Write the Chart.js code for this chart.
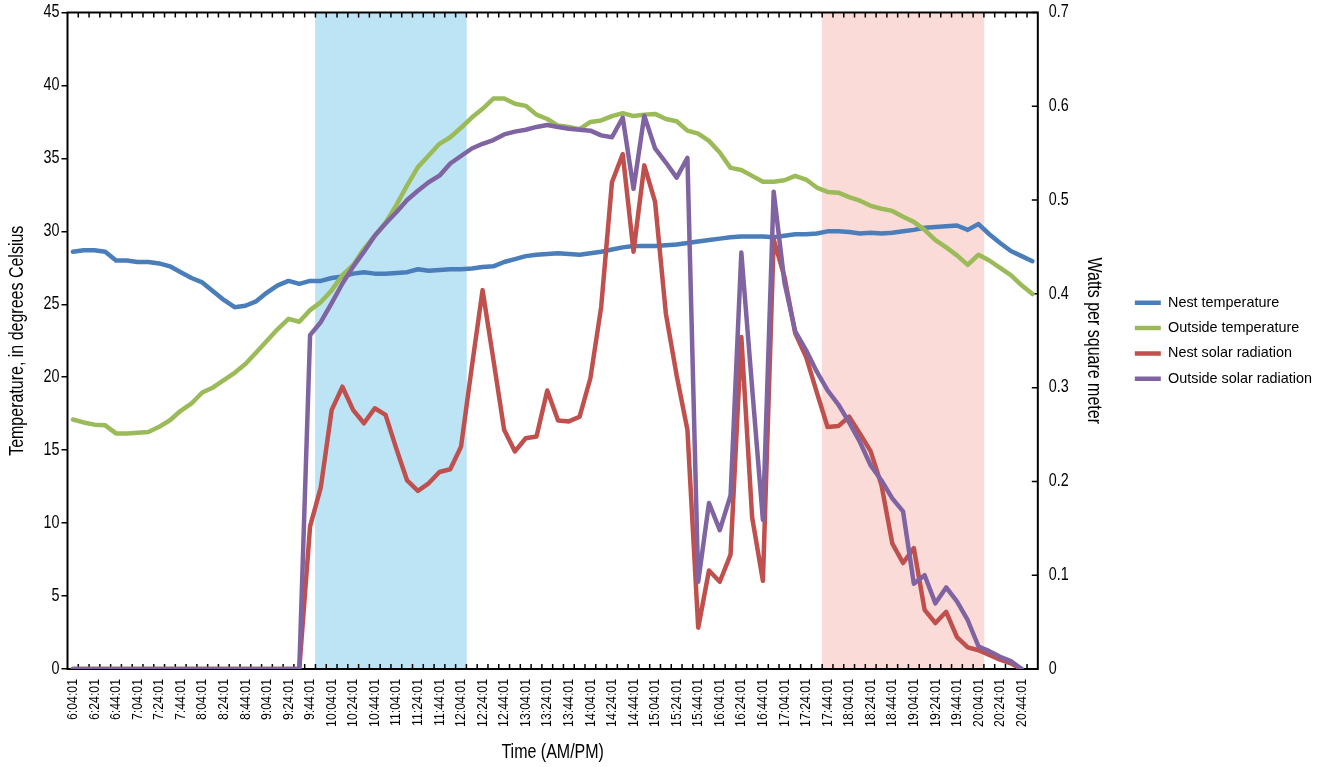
<!DOCTYPE html>
<html>
<head>
<meta charset="utf-8">
<script src="https://cdn.jsdelivr.net/npm/chart.js@4.4.1/dist/chart.umd.min.js"></script>
<style>
  html, body { margin: 0; padding: 0; background: #fff; }
  #wrap { width: 1322px; height: 767px; position: relative; }
</style>
</head>
<body>
<div id="wrap"><canvas id="c"></canvas></div>
<script>
// ---- Data (10-minute readings) ----
const times = [
  '6:04:01','6:14:01','6:24:01','6:34:01','6:44:01','6:54:01',
  '7:04:01','7:14:01','7:24:01','7:34:01','7:44:01','7:54:01',
  '8:04:01','8:14:01','8:24:01','8:34:01','8:44:01','8:54:01',
  '9:04:01','9:14:01','9:24:01','9:34:01','9:44:01','9:54:01',
  '10:04:01','10:14:01','10:24:01','10:34:01','10:44:01','10:54:01',
  '11:04:01','11:14:01','11:24:01','11:34:01','11:44:01','11:54:01',
  '12:04:01','12:14:01','12:24:01','12:34:01','12:44:01','12:54:01',
  '13:04:01','13:14:01','13:24:01','13:34:01','13:44:01','13:54:01',
  '14:04:01','14:14:01','14:24:01','14:34:01','14:44:01','14:54:01',
  '15:04:01','15:14:01','15:24:01','15:34:01','15:44:01','15:54:01',
  '16:04:01','16:14:01','16:24:01','16:34:01','16:44:01','16:54:01',
  '17:04:01','17:14:01','17:24:01','17:34:01','17:44:01','17:54:01',
  '18:04:01','18:14:01','18:24:01','18:34:01','18:44:01','18:54:01',
  '19:04:01','19:14:01','19:24:01','19:34:01','19:44:01','19:54:01',
  '20:04:01','20:14:01','20:24:01','20:34:01','20:44:01','20:54:01'
];

// Temperature, degrees Celsius (left axis)
const nestTemperature = [
  28.6,28.7,28.7,28.6,28.0,28.0,27.9,27.9,27.8,27.6,
  27.2,26.8,26.5,25.9,25.3,24.8,24.9,25.2,25.8,26.3,
  26.6,26.4,26.6,26.6,26.8,26.9,27.1,27.2,27.1,27.1,
  27.15,27.2,27.4,27.3,27.35,27.4,27.4,27.45,27.55,27.6,
  27.9,28.1,28.3,28.4,28.45,28.5,28.45,28.4,28.5,28.6,
  28.75,28.9,29.0,29.0,29.0,29.05,29.1,29.2,29.3,29.4,
  29.5,29.6,29.65,29.65,29.65,29.6,29.7,29.8,29.8,29.85,
  30.0,30.0,29.95,29.85,29.9,29.85,29.9,30.0,30.1,30.25,
  30.3,30.35,30.4,30.1,30.5,29.8,29.2,28.65,28.3,27.95
];
const outsideTemperature = [
  17.1,16.9,16.75,16.7,16.15,16.15,16.2,16.25,16.6,17.05,
  17.7,18.2,18.95,19.3,19.8,20.3,20.9,21.7,22.5,23.3,
  24.0,23.8,24.6,25.15,25.95,27.0,27.7,28.8,29.7,30.6,
  31.8,33.15,34.4,35.2,36.0,36.45,37.1,37.8,38.4,39.1,
  39.1,38.75,38.6,38.0,37.7,37.25,37.15,37.0,37.5,37.6,
  37.9,38.1,37.9,38.0,38.05,37.7,37.55,36.9,36.7,36.2,
  35.4,34.35,34.2,33.8,33.4,33.4,33.5,33.8,33.55,33.0,
  32.7,32.65,32.35,32.1,31.75,31.55,31.4,31.0,30.65,30.1,
  29.4,28.9,28.35,27.7,28.4,28.0,27.5,27.0,26.3,25.7
];

// Solar radiation, watts per square meter (right axis)
const nestSolar = [
  0,0,0,0,0,0,0,0,0,0,
  0,0,0,0,0,0,0,0,0,0,
  0,0,0.152,0.194,0.276,0.301,0.276,0.262,0.278,0.271,
  0.235,0.201,0.190,0.198,0.210,0.213,0.237,0.322,0.404,0.330,
  0.255,0.232,0.246,0.248,0.297,0.265,0.264,0.269,0.310,0.386,
  0.519,0.549,0.445,0.537,0.498,0.379,0.313,0.255,0.044,0.105,
  0.093,0.122,0.354,0.162,0.094,0.458,0.418,0.358,0.333,0.295,
  0.258,0.259,0.269,0.251,0.232,0.196,0.134,0.113,0.129,0.063,
  0.049,0.061,0.034,0.023,0.020,0.015,0.010,0.006,0,null
];
const outsideSolar = [
  0,0,0,0,0,0,0,0,0,0,
  0,0,0,0,0,0,0,0,0,0,
  0,0,0.356,0.370,0.390,0.411,0.429,0.445,0.462,0.475,
  0.487,0.500,0.510,0.519,0.526,0.539,0.547,0.555,0.560,0.564,
  0.570,0.573,0.575,0.578,0.580,0.578,0.576,0.575,0.574,0.569,
  0.567,0.588,0.512,0.590,0.555,0.540,0.524,0.545,0.093,0.177,
  0.148,0.185,0.444,0.300,0.159,0.509,0.412,0.360,0.340,0.317,
  0.297,0.282,0.263,0.242,0.217,0.201,0.182,0.168,0.091,0.100,
  0.070,0.087,0.072,0.052,0.024,0.019,0.013,0.0085,0,null
];

// Shaded periods (first and last category of each band)
const morningBand = ['9:54:01', '12:04:01'];
const eveningBand = ['17:44:01', '20:04:01'];

const seriesNames = ['Nest temperature', 'Outside temperature', 'Nest solar radiation', 'Outside solar radiation'];
const seriesColors = ['#4a7ebb', '#9bbb59', '#c0504d', '#8064a2'];

// ---- Condensed-text rendering (emulates a narrow sans font) ----
(function () {
  const SCALE = 0.82;
  const proto = CanvasRenderingContext2D.prototype;
  const fill = proto.fillText, measure = proto.measureText;
  const narrow = (ctx) => ctx.font.indexOf('NarrowSim') >= 0;
  proto.measureText = function (t) {
    const m = measure.call(this, t);
    if (!narrow(this)) return m;
    return {
      width: m.width * SCALE,
      actualBoundingBoxAscent: m.actualBoundingBoxAscent,
      actualBoundingBoxDescent: m.actualBoundingBoxDescent,
      actualBoundingBoxLeft: m.actualBoundingBoxLeft * SCALE,
      actualBoundingBoxRight: m.actualBoundingBoxRight * SCALE,
      fontBoundingBoxAscent: m.fontBoundingBoxAscent,
      fontBoundingBoxDescent: m.fontBoundingBoxDescent
    };
  };
  proto.fillText = function (t, x, y, maxW) {
    if (!narrow(this)) {
      return maxW === undefined ? fill.call(this, t, x, y) : fill.call(this, t, x, y, maxW);
    }
    this.save();
    this.translate(x, y);
    this.scale(SCALE, 1);
    if (maxW === undefined) fill.call(this, t, 0, 0); else fill.call(this, t, 0, 0, maxW / SCALE);
    this.restore();
  };
})();

// ---- Build band dataset from band definitions ----
const mStart = times.indexOf(morningBand[0]), mEnd = times.indexOf(morningBand[1]);
const eStart = times.indexOf(eveningBand[0]), eEnd = times.indexOf(eveningBand[1]);
const bandData = times.map((t, i) => ((i >= mStart && i <= mEnd) || (i >= eStart && i <= eEnd)) ? 1 : null);
const bandColors = times.map((t, i) => (i >= mStart && i <= mEnd) ? '#bde4f5' : '#fadbd8');

const NARROW = "NarrowSim, 'Liberation Sans', Arial, sans-serif";
Chart.defaults.color = '#000';
Chart.defaults.font.family = NARROW;

function lineDs(idx, data, axis, ord) {
  return {
    type: 'line', label: seriesNames[idx], data: data, yAxisID: axis,
    borderColor: seriesColors[idx], backgroundColor: seriesColors[idx],
    borderWidth: 4.5, pointRadius: 0, pointHoverRadius: 0, tension: 0,
    borderJoinStyle: 'round', borderCapStyle: 'round', fill: false, order: ord
  };
}

const framePlugin = {
  id: 'frame',
  afterDatasetDraw(chart, args) {
    if (chart.data.datasets[args.index].isBand !== true) return;
    const {ctx, chartArea: {left, right, top, bottom}, scales} = chart;
    const x = scales.x, y2 = scales.y2;
    ctx.save();
    ctx.strokeStyle = '#000';
    ctx.lineWidth = 1.5;
    ctx.beginPath();
    for (let i = 1; i < times.length; i++) {
      const px = (x.getPixelForValue(i - 1) + x.getPixelForValue(i)) / 2;
      ctx.moveTo(px, bottom); ctx.lineTo(px, bottom - 5);
      ctx.moveTo(px, top); ctx.lineTo(px, top + 5);
    }
    y2.ticks.forEach(t => {
      const py = y2.getPixelForValue(t.value);
      ctx.moveTo(right - 6, py); ctx.lineTo(right, py);
    });
    ctx.stroke();
    ctx.lineWidth = 2;
    ctx.strokeRect(left, top, right - left, bottom - top);
    ctx.restore();
  }
};

new Chart(document.getElementById('c'), {
  data: {
    labels: times,
    datasets: [
      lineDs(0, nestTemperature, 'y', 4),
      lineDs(1, outsideTemperature, 'y', 3),
      lineDs(2, nestSolar, 'y2', 2),
      lineDs(3, outsideSolar, 'y2', 1),
      {
        type: 'bar', label: 'bands', isBand: true, data: bandData, yAxisID: 'yb',
        backgroundColor: bandColors, borderWidth: 0,
        barPercentage: 1, categoryPercentage: 1, order: 10
      }
    ]
  },
  options: {
    responsive: true, maintainAspectRatio: false, animation: false,
    devicePixelRatio: 1,
    layout: { padding: { top: 0, left: 0, right: 0, bottom: 0 } },
    plugins: {
      tooltip: { enabled: false },
      legend: {
        position: 'right', align: 'center', fullSize: false,
        labels: {
          filter: (item) => item.text !== 'bands',
          sort: (a, b) => a.datasetIndex - b.datasetIndex,
          usePointStyle: true, pointStyle: 'line', pointStyleWidth: 26, boxWidth: 26,
          padding: 11, color: '#000',
          font: { family: "'Liberation Sans', Arial, sans-serif", size: 14.4 }
        }
      }
    },
    scales: {
      x: {
        type: 'category', offset: true,
        grid: { display: false, drawTicks: false, offset: true },
        border: { display: false },
        ticks: {
          autoSkip: false, minRotation: 90, maxRotation: 90, padding: 10,
          font: { size: 15 },
          callback: function(v, i) { return i % 2 === 0 ? times[i] : ''; }
        },
        title: { display: true, text: 'Time (AM/PM)', font: { size: 19.5 }, padding: { top: 0, bottom: 3 } },
        afterFit: (s) => { s.height = 98; }
      },
      y: {
        position: 'left', min: 0, max: 45,
        ticks: { stepSize: 5, padding: 2, font: { size: 17.5 } },
        grid: { drawOnChartArea: false, drawTicks: true, tickLength: 6, color: '#000', lineWidth: 1.5 },
        border: { display: false },
        title: { display: true, text: 'Temperature, in degrees Celsius', font: { size: 19.5 }, padding: { top: 5.5, bottom: 0 } },
        afterFit: (s) => { s.width = 67.5; }
      },
      y2: {
        position: 'right', min: 0, max: 0.7,
        ticks: { stepSize: 0.1, padding: 2, font: { size: 17.5 } },
        grid: { display: false, drawTicks: true, tickLength: 9 },
        border: { display: false },
        title: { display: true, text: 'Watts per square meter', font: { size: 19.5 }, padding: { top: 18.5, bottom: 0 } },
        afterFit: (s) => { s.width = 86; }
      },
      yb: { display: false, min: 0, max: 1 }
    }
  },
  plugins: [framePlugin]
});
</script>
</body>
</html>
